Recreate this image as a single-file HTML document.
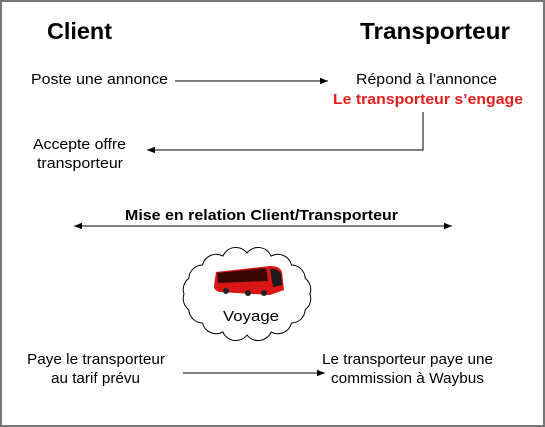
<!DOCTYPE html>
<html><head><meta charset="utf-8"><style>
html,body{margin:0;padding:0;background:#fff}
svg{display:block}
text{font-family:"Liberation Sans",Arial,sans-serif}
</style></head><body>
<svg width="545" height="427" viewBox="0 0 545 427" xmlns="http://www.w3.org/2000/svg">
<defs>
<marker id="ah" viewBox="0 0 10 10" refX="10" refY="5" markerWidth="10" markerHeight="8" markerUnits="userSpaceOnUse" orient="auto-start-reverse">
<path d="M0,1 L10,5 L0,9 z" fill="#000"/></marker>
</defs>
<rect x="1" y="1" width="543" height="425" fill="#fff" stroke="#777" stroke-width="2"/>
<text x="47" y="39" font-size="23" font-weight="bold" textLength="65" lengthAdjust="spacingAndGlyphs">Client</text>
<text x="360" y="39" font-size="23" font-weight="bold" textLength="150" lengthAdjust="spacingAndGlyphs">Transporteur</text>

<text x="31" y="84" font-size="15" textLength="137" lengthAdjust="spacingAndGlyphs">Poste une annonce</text>
<line x1="175" y1="81" x2="328" y2="81" stroke="#000" stroke-width="1" marker-end="url(#ah)"/>
<text x="356" y="84" font-size="15" textLength="141" lengthAdjust="spacingAndGlyphs">Répond à l’annonce</text>
<text x="333" y="104" font-size="15" font-weight="bold" fill="#e0201e" textLength="190" lengthAdjust="spacingAndGlyphs">Le transporteur s’engage</text>
<polyline points="423,112 423,150 147,150" fill="none" stroke="#000" stroke-width="1" marker-end="url(#ah)"/>
<text x="33" y="149" font-size="15" textLength="93" lengthAdjust="spacingAndGlyphs">Accepte offre</text>
<text x="37" y="168" font-size="15" textLength="86" lengthAdjust="spacingAndGlyphs">transporteur</text>

<text x="125" y="220" font-size="15" font-weight="bold" textLength="273" lengthAdjust="spacingAndGlyphs">Mise en relation Client/Transporteur</text>
<line x1="74" y1="226" x2="452" y2="226" stroke="#000" stroke-width="1" marker-start="url(#ah)" marker-end="url(#ah)"/>

<path d="M310,294 A14,14 0 0 1 305.2,309.7 A14,14 0 0 1 291.5,323 A14,14 0 0 1 271.1,331.9 A14,14 0 0 1 247,335 A14,14 0 0 1 222.9,331.9 A14,14 0 0 1 202.5,323 A14,14 0 0 1 188.8,309.7 A14,14 0 0 1 184,294 A14,14 0 0 1 188.8,278.3 A14,14 0 0 1 202.5,265 A14,14 0 0 1 222.9,256.1 A14,14 0 0 1 247,253 A14,14 0 0 1 271.1,256.1 A14,14 0 0 1 291.5,265 A14,14 0 0 1 305.2,278.3 A14,14 0 0 1 310,294 z" fill="#fff" stroke="#000" stroke-width="1"/>
<g>
<path d="M216,272 L270,266 Q280,266 282,272 L284,290 L270,295 L220,292 Q214,291 214,286 Z" fill="#d91515"/>
<path d="M217,273 L266,268 L268,281 L218,283 Z" fill="#3a0505"/>
<path d="M270,269 Q278,268 281,274 L282,285 L273,287 Z" fill="#1a1a1a"/>
<circle cx="226" cy="291" r="3" fill="#222"/>
<circle cx="248" cy="293" r="3" fill="#222"/>
<circle cx="264" cy="293" r="3" fill="#222"/>
</g>
<text x="223" y="321" font-size="15" textLength="56" lengthAdjust="spacingAndGlyphs">Voyage</text>

<text x="27" y="364" font-size="15" textLength="138" lengthAdjust="spacingAndGlyphs">Paye le transporteur</text>
<text x="51" y="383" font-size="15" textLength="89" lengthAdjust="spacingAndGlyphs">au tarif prévu</text>
<line x1="183" y1="373" x2="325" y2="373" stroke="#000" stroke-width="1" marker-end="url(#ah)"/>
<text x="322" y="364" font-size="15" textLength="171" lengthAdjust="spacingAndGlyphs">Le transporteur paye une</text>
<text x="331" y="383" font-size="15" textLength="153" lengthAdjust="spacingAndGlyphs">commission à Waybus</text>
</svg>
</body></html>
